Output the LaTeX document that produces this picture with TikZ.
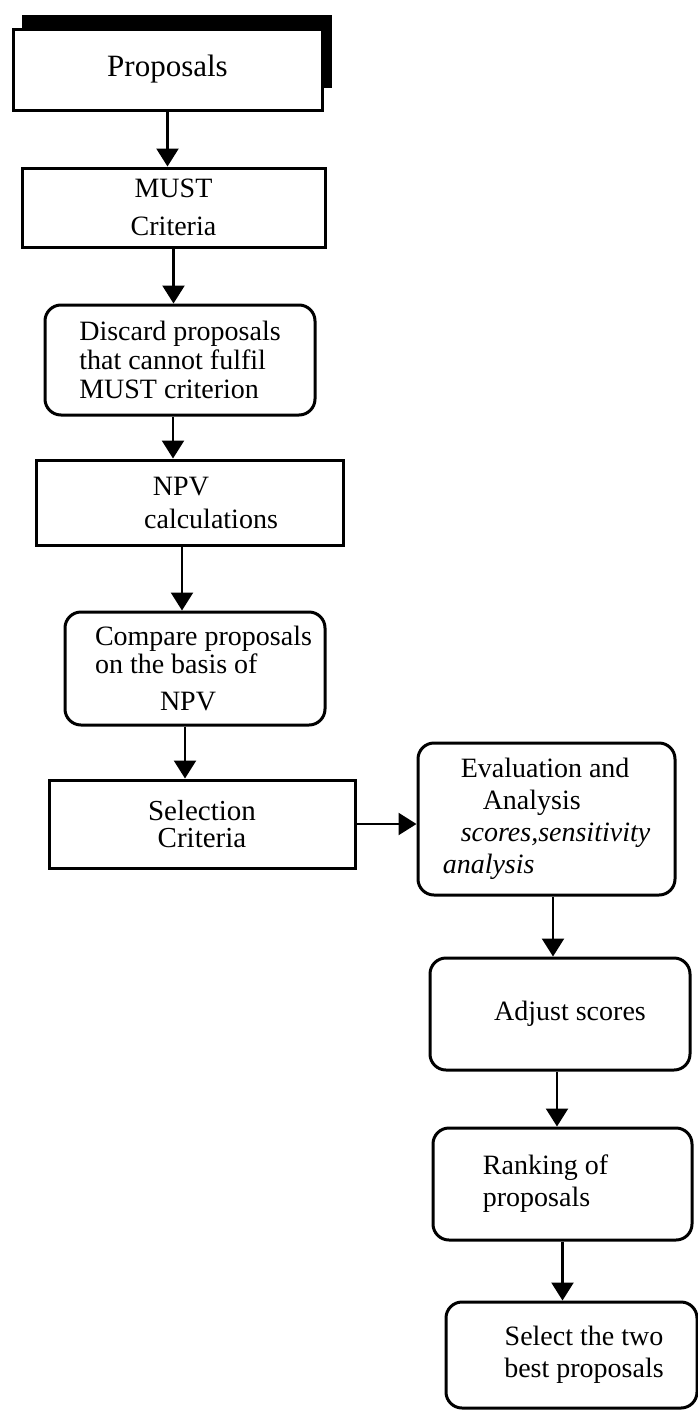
\documentclass[tikz,border=0pt]{standalone}
\usepackage{fontspec}
\setmainfont{Liberation Serif}
\usetikzlibrary{arrows.meta}
\begin{document}
\begin{tikzpicture}[x=1pt,y=-1pt,
  every node/.style={inner sep=0pt, font=\fontsize{28}{31}\selectfont},
  sqbox/.style={draw, line width=3pt, rectangle, fill=white},
  rbox/.style={draw, line width=3pt, rectangle, rounded corners=16pt, fill=white},
  arr/.style={line width=2.4pt, -{Triangle[width=22pt,length=18pt]}}]
\useasboundingbox (0,0) rectangle (698,1411);

% heavy drop shadow behind the first box
\fill (22,15) rectangle (332,88);

% left column
\node[sqbox, minimum width=309pt, minimum height=81pt,
      font=\fontsize{31}{34}\selectfont] (prop) at (167.5,69.5) {Proposals};
\node[sqbox, minimum width=303pt, minimum height=79pt, align=center] (must) at (173.5,207.5)
  {MUST\\[7pt]Criteria};
\node[rbox, minimum width=270pt, minimum height=110pt, align=left,
      font=\fontsize{28}{29}\selectfont] (disc) at (180,360)
  {Discard proposals\\that cannot fulfil\\MUST criterion};
\node[sqbox, minimum width=307pt, minimum height=85pt, align=center] (npv) at (189.5,502.5)
  {NPV\hspace*{17pt}\\[2pt]\hspace*{43pt}calculations};
\node[rbox, minimum width=260pt, minimum height=113pt, align=left] (comp) at (195,668.5)
  {\hspace*{17pt}Compare proposals\\[-3pt]\hspace*{17pt}on the basis of\\[6pt]\hspace*{82pt}NPV};
\node[sqbox, minimum width=306pt, minimum height=88pt, align=center,
      font=\fontsize{29}{27}\selectfont] (sel) at (202,824)
  {Selection\\Criteria};

% right column
\node[rbox, minimum width=257pt, minimum height=152pt, align=left,
      font=\fontsize{28}{32}\selectfont] (eval) at (546.5,819)
  {\hspace*{18pt}Evaluation and\\\hspace*{40pt}Analysis\\
   \hspace*{18pt}\textit{scores,sensitivity}\hspace*{36pt}\\\textit{analysis}};
\node[rbox, minimum width=260pt, minimum height=112pt] (adj) at (560,1014)
  {\hspace*{20pt}Adjust scores};
\node[rbox, minimum width=259pt, minimum height=112pt, align=left,
      font=\fontsize{28}{32}\selectfont] (rank) at (562.5,1184)
  {Ranking of\hspace*{34pt}\\proposals};
\node[rbox, minimum width=251pt, minimum height=106pt, align=center,
      font=\fontsize{28}{32}\selectfont] (selb) at (571.5,1355)
  {\hspace*{25pt}Select the two\\\hspace*{25pt}best proposals};

% connectors
\draw[arr] (prop.south) -- (prop.south |- must.north);
\draw[arr] (must.south) -- (must.south |- disc.north);
\draw[arr] ([xshift=-7pt]disc.south) -- ([xshift=-7pt]disc.south |- npv.north);
\draw[arr] ([xshift=-7.5pt]npv.south) -- ([xshift=-7.5pt]npv.south |- comp.north);
\draw[arr] ([xshift=-10pt]comp.south) -- ([xshift=-10pt]comp.south |- sel.north);
\draw[arr] (sel.east) -- (sel.east -| eval.west);
\draw[arr] ([xshift=6.5pt]eval.south) -- ([xshift=6.5pt]eval.south |- adj.north);
\draw[arr] ([xshift=-3pt]adj.south) -- ([xshift=-3pt]adj.south |- rank.north);
\draw[arr] (rank.south) -- (rank.south |- selb.north);
\end{tikzpicture}
\end{document}
